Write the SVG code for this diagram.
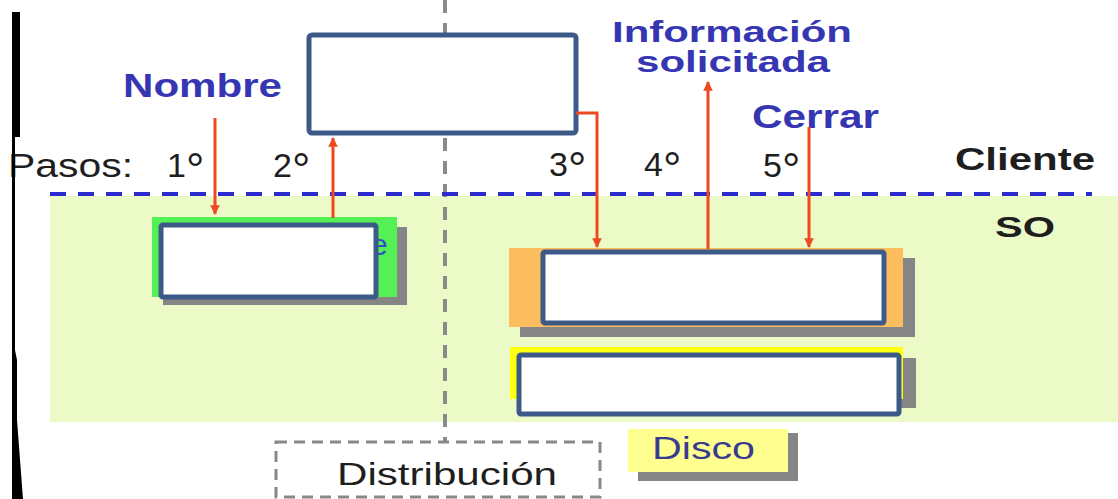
<svg xmlns="http://www.w3.org/2000/svg" width="1118" height="499" viewBox="0 0 1118 499">
<defs>
<style>
.t{font-family:"Liberation Sans",Arial,sans-serif;}
.blue{fill:#3636b2;font-weight:bold;}
.blk{fill:#1e1e1e;}
.bold{font-weight:bold;}
.wbox{fill:#fff;stroke:#3c5a88;stroke-width:5;}
.shadow{fill:#858585;}
.arr{stroke:#ee4a22;stroke-width:3;fill:none;}
.deg{font-size:46px;}
</style>
<marker id="ah" viewBox="0 0 10 10" refX="9" refY="5" markerWidth="3.2" markerHeight="3.2" orient="auto" markerUnits="strokeWidth">
<path d="M0,0 L10,5 L0,10 z" fill="#ee4a22"/>
</marker>
</defs>
<rect width="1118" height="499" fill="#fff"/>
<!-- SO region -->
<rect x="50" y="196" width="1068" height="226" fill="#ebfac6"/>
<!-- vertical separator -->
<line x1="445" y1="0" x2="445" y2="442" stroke="#8a8a8a" stroke-width="4" stroke-dasharray="13 10"/>
<!-- client/SO border -->
<line x1="50" y1="194" x2="1092" y2="194" stroke="#2a2ad0" stroke-width="4" stroke-dasharray="16 12"/>

<g id="label-pasos">
<text class="t blk" x="8" y="177" font-size="34" textLength="125" lengthAdjust="spacingAndGlyphs">Pasos:</text>
<text class="t blk" x="167" y="177" font-size="34">1<tspan class="deg" dy="9">°</tspan></text>
<text class="t blk" x="273" y="177" font-size="34">2<tspan class="deg" dy="9">°</tspan></text>
<text class="t blk" x="549" y="176" font-size="34">3<tspan class="deg" dy="9">°</tspan></text>
<text class="t blk" x="644" y="176" font-size="34">4<tspan class="deg" dy="9">°</tspan></text>
<text class="t blk" x="763" y="177" font-size="34">5<tspan class="deg" dy="9">°</tspan></text>
</g>
<g id="label-cliente"><text class="t blk bold" x="955" y="170" font-size="32" textLength="140" lengthAdjust="spacingAndGlyphs">Cliente</text></g>
<g id="label-so"><text class="t blk bold" x="995" y="237" font-size="30" textLength="60" lengthAdjust="spacingAndGlyphs">SO</text></g>
<g id="label-nombre"><text class="t blue" x="123" y="97" font-size="33" textLength="159" lengthAdjust="spacingAndGlyphs">Nombre</text></g>
<g id="label-informacion">
<text class="t blue" x="612" y="42" font-size="30" textLength="240" lengthAdjust="spacingAndGlyphs">Información</text>
<text class="t blue" x="636" y="72" font-size="30" textLength="194" lengthAdjust="spacingAndGlyphs">solicitada</text>
</g>
<g id="label-cerrar"><text class="t blue" x="752" y="128" font-size="33" textLength="127" lengthAdjust="spacingAndGlyphs">Cerrar</text></g>

<g id="node-top"><rect class="wbox" x="309" y="35" width="267" height="98" rx="3"/></g>

<g id="node-green">
<rect class="shadow" x="163" y="227" width="244" height="78"/>
<rect x="152" y="217" width="245" height="80" fill="#55f055"/>
<text class="t" x="371" y="255" font-size="30" fill="#3050c8">e</text>
<rect class="wbox" x="161" y="225" width="215" height="72" rx="2"/>
</g>

<g id="node-orange">
<rect class="shadow" x="520" y="258" width="395" height="79"/>
<rect x="509" y="248" width="394" height="79" fill="#fbbd5e"/>
<rect class="wbox" x="543" y="252" width="341" height="71" rx="2"/>
</g>

<g id="node-yellow">
<rect class="shadow" x="520" y="358" width="396" height="50"/>
<rect x="510" y="347" width="393" height="52" fill="#ffff10"/>
<rect class="wbox" x="519" y="355" width="380" height="59" rx="2"/>
</g>

<g id="node-disco">
<rect class="shadow" x="638" y="433" width="160" height="48"/>
<rect x="628" y="429" width="160" height="43" fill="#ffff90"/>
<text class="t" x="652" y="459" font-size="32" fill="#3a3a90" textLength="103" lengthAdjust="spacingAndGlyphs">Disco</text>
</g>

<g id="node-distribucion">
<rect x="276" y="442" width="324" height="55" fill="none" stroke="#888" stroke-width="3" stroke-dasharray="11 7"/>
<text class="t blk" x="337" y="485" font-size="32" textLength="220" lengthAdjust="spacingAndGlyphs">Distribución</text>
</g>

<g id="connectors">
<line class="arr" x1="215" y1="118" x2="215" y2="214" marker-end="url(#ah)"/>
<line class="arr" x1="333" y1="218" x2="333" y2="138" marker-end="url(#ah)"/>
<polyline class="arr" points="576,113 597,113 597,247" marker-end="url(#ah)"/>
<line class="arr" x1="708" y1="249" x2="708" y2="82" marker-end="url(#ah)"/>
<line class="arr" x1="809" y1="127" x2="809" y2="247" marker-end="url(#ah)"/>
</g>

<!-- left black edge -->
<polygon points="12,12 20,12 20,137 15,137 15,350 17,360 17,420 23,499 12,499" fill="#000"/>
</svg>
